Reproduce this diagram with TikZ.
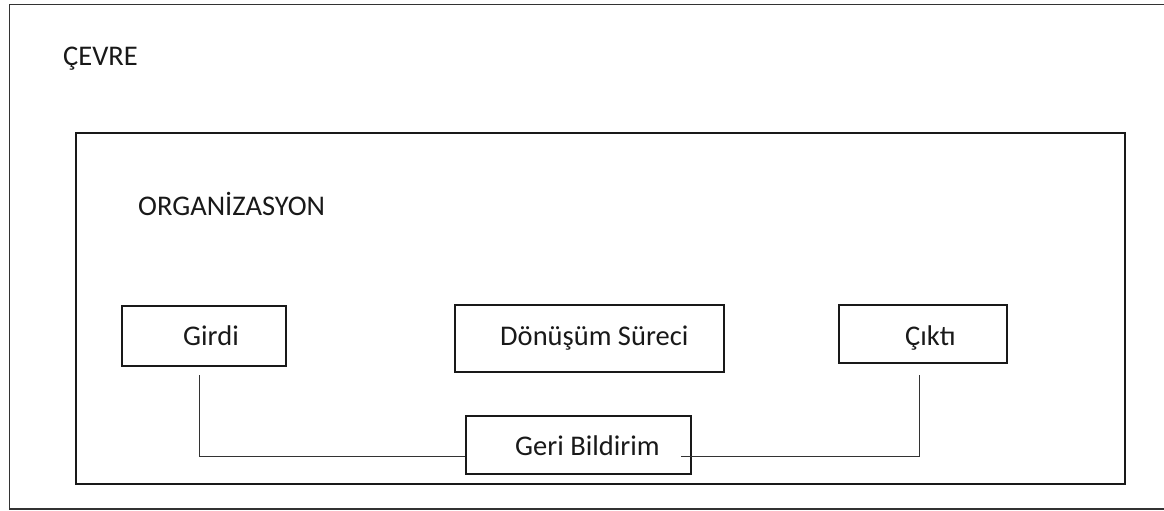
\documentclass[tikz,border=0pt]{standalone}
\usepackage{fontspec}
\setmainfont{Carlito}
\begin{document}
\begin{tikzpicture}[x=1pt,y=-1pt,
  box/.style={draw=black!90,line width=1.8pt,rectangle,inner sep=0pt},
  lbl/.style={anchor=base west,inner sep=0pt,font=\fontsize{28.5}{34}\selectfont,text=black!90},
  conn/.style={draw=black!80,line width=1.5pt}]
\useasboundingbox (0,0) rectangle (1164,511);
% outer frame (right side runs off the page)
\draw[line width=1.8pt,black!80] (1170,4.5) -- (9.5,4.5) -- (9.5,509) -- (1170,509);
\node[lbl] (cevre) at (63,66) {ÇEVRE};
% inner frame
\node[box,minimum width=1049pt,minimum height=351pt] (org) at (600.5,308.5) {};
\node[lbl] (orgT) at (138,215) {ORGANİZASYON};
% boxes
\node[box,minimum width=164pt,minimum height=60pt] (girdi) at (204,336) {};
\node[lbl] (girdiT) at (183,345) {Girdi};
\node[box,minimum width=269pt,minimum height=67pt] (donusum) at (589.5,338.5) {};
\node[lbl] (donusumT) at (500,345) {Dönüşüm Süreci};
\node[box,minimum width=168pt,minimum height=58pt] (cikti) at (923,334) {};
\node[lbl] (ciktiT) at (905,345) {Çıktı};
\node[box,minimum width=225pt,minimum height=58pt] (geri) at (578.5,445) {};
\node[lbl] (geriT) at (515,455) {Geri Bildirim};
% connectors
\coordinate (gs) at (199.5,375);
\coordinate (gl) at (geri.west |- 0,456.5);
\coordinate (cs) at (919.5,375);
\coordinate (ce) at (681,456.5);
\draw[conn] (gs) |- (gl);
\draw[conn] (cs) |- (ce);
\end{tikzpicture}
\end{document}
